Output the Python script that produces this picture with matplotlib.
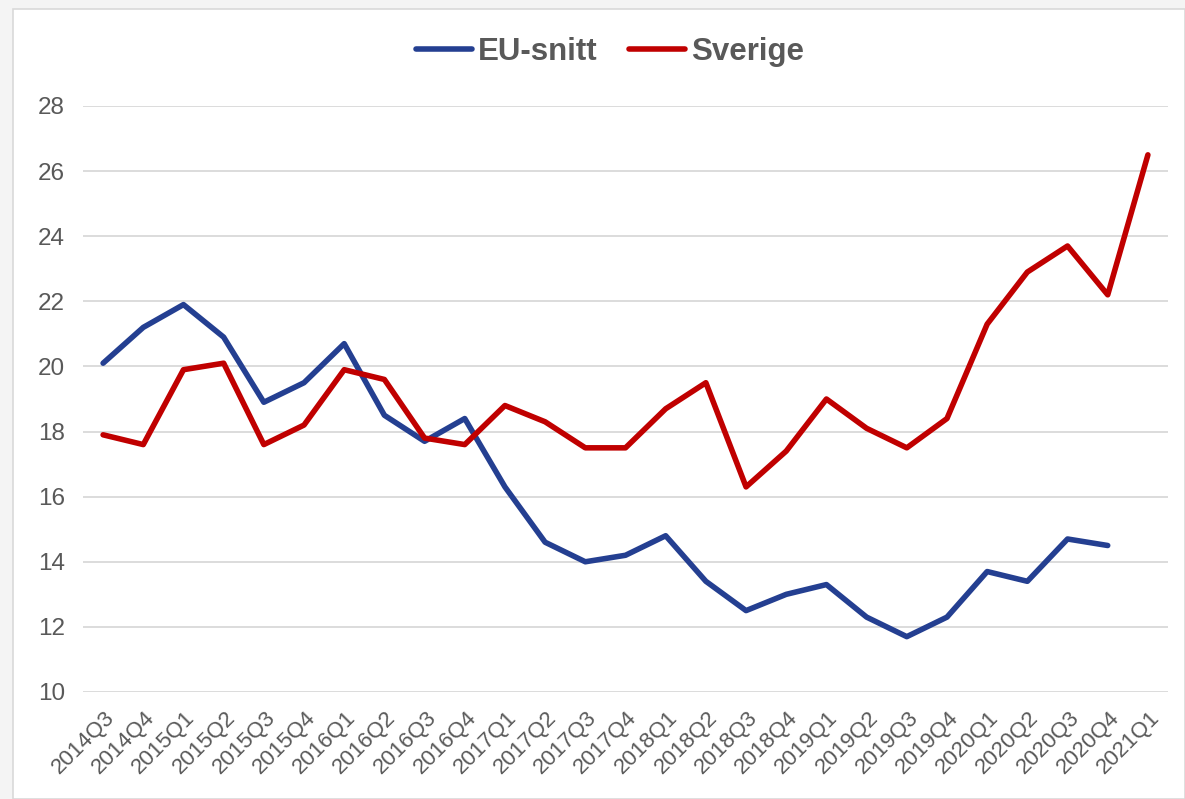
import matplotlib.pyplot as plt
import matplotlib.transforms as mtransforms
from matplotlib.patches import Rectangle

quarters = ['2014Q3', '2014Q4', '2015Q1', '2015Q2', '2015Q3', '2015Q4',
            '2016Q1', '2016Q2', '2016Q3', '2016Q4', '2017Q1', '2017Q2',
            '2017Q3', '2017Q4', '2018Q1', '2018Q2', '2018Q3', '2018Q4',
            '2019Q1', '2019Q2', '2019Q3', '2019Q4', '2020Q1', '2020Q2',
            '2020Q3', '2020Q4', '2021Q1']

eu_snitt = [20.1, 21.2, 21.9, 20.9, 18.9, 19.5, 20.7, 18.5, 17.7, 18.4,
            16.3, 14.6, 14.0, 14.2, 14.8, 13.4, 12.5, 13.0, 13.3, 12.3,
            11.7, 12.3, 13.7, 13.4, 14.7, 14.5, None]

sverige = [17.9, 17.6, 19.9, 20.1, 17.6, 18.2, 19.9, 19.6, 17.8, 17.6,
           18.8, 18.3, 17.5, 17.5, 18.7, 19.5, 16.3, 17.4, 19.0, 18.1,
           17.5, 18.4, 21.3, 22.9, 23.7, 22.2, 26.5]

y_ticks = [10, 12, 14, 16, 18, 20, 22, 24, 26, 28]

plt.rcParams['font.family'] = ['Liberation Sans', 'DejaVu Sans']
text_color = '#595959'

fig = plt.figure(figsize=(11.85, 7.99), dpi=100, facecolor='#f4f4f4')

# white chart card on the grey page
card = Rectangle((13 / 1185, 0), 1 - 13 / 1185, 1 - 9 / 799,
                 transform=fig.transFigure, facecolor='white',
                 edgecolor='#d9d9d9', linewidth=1.2, zorder=-5)
fig.patches.append(card)

ax = fig.add_axes([83 / 1185, 1 - 692 / 799, (1168 - 83) / 1185, (692 - 106) / 799])
ax.patch.set_alpha(0)

x = list(range(len(quarters)))
eu_x = [i for i, v in zip(x, eu_snitt) if v is not None]
eu_y = [v for v in eu_snitt if v is not None]

ax.plot(eu_x, eu_y, color='#243F91', linewidth=4, label='EU-snitt',
        solid_capstyle='round', solid_joinstyle='round', zorder=3)
ax.plot(x, sverige, color='#C00000', linewidth=4, label='Sverige',
        solid_capstyle='round', solid_joinstyle='round', zorder=3)

ax.set_xlim(-0.5, len(quarters) - 0.5)
ax.set_ylim(10, 28)
ax.set_yticks(y_ticks)
ax.set_xticks(x)
ax.set_xticklabels(quarters, rotation=45, ha='right', rotation_mode='anchor')

ax.grid(axis='y', color='#d9d9d9', linewidth=1.3)
ax.set_axisbelow(True)
for s in ax.spines.values():
    s.set_visible(False)
ax.tick_params(axis='both', length=0, colors=text_color)
ax.tick_params(axis='y', pad=13, labelsize=17.5)
ax.tick_params(axis='x', pad=11, labelsize=16)

shift = mtransforms.ScaledTranslation(1 / 100, 0, fig.dpi_scale_trans)
for lbl in ax.get_xticklabels():
    lbl.set_transform(lbl.get_transform() + shift)

leg = fig.legend(loc='center', bbox_to_anchor=(610 / 1185, 1 - 52 / 799),
                 ncol=2, frameon=False, handlelength=1.8, handletextpad=0.18,
                 columnspacing=1.0, prop={'size': 22.5, 'weight': 'bold'})
for t in leg.get_texts():
    t.set_color(text_color)

fig.savefig('out.png', dpi=100, facecolor=fig.get_facecolor())
